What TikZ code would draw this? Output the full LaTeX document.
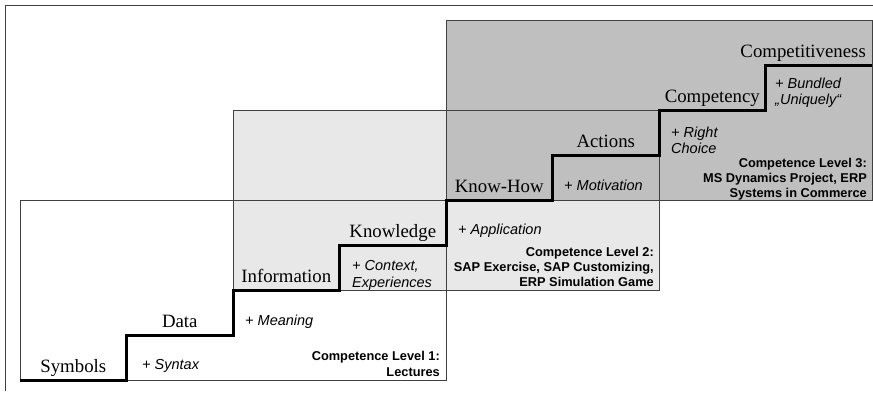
\documentclass[tikz,border=0pt]{standalone}
\usepackage{fontspec}
\setmainfont{Liberation Serif}
\setsansfont{Liberation Sans}
\begin{document}
\begin{tikzpicture}[x=1pt,y=-1pt,
  frame/.style={draw=black!75, line width=0.8pt},
  stage/.style={font=\fontsize{18.8}{22}\selectfont, inner sep=0pt, anchor=base},
  plus/.style={font=\sffamily\itshape\fontsize{14.5}{17}\selectfont, inner sep=0pt, anchor=base west},
  level/.style={font=\sffamily\bfseries\fontsize{12.8}{15}\selectfont, inner sep=0pt, anchor=base east},
  stair/.style={line width=3pt, line join=miter, line cap=butt}]
\useasboundingbox (0,0) rectangle (873,394);
% outer frame
\draw[frame] (5.5,391) -- (5.5,5.5) -- (873,5.5);
% fills
\fill[white] (20,200) rectangle (446,380);
\fill[black!9] (233,110) rectangle (659,290);
\fill[black!25] (446,20) rectangle (872,200);
% borders
\draw[frame] (20,200) rectangle (446,380);
\draw[frame] (233,110) rectangle (659,290);
\draw[frame] (446,20) rectangle (872,200);
% staircase
\draw[stair] (20,380) -| (126.5,335) -| (233,290) -| (339.5,245) -| (446,200)
  -| (552.5,155) -| (659,110) -| (765.5,65) -- (872,65);
% stage labels
\node[stage] (symbols) at (73.3,372) {Symbols};
\node[stage] (data) at (179.8,327) {Data};
\node[stage] (information) at (286.3,282) {Information};
\node[stage] (knowledge) at (392.8,237) {Knowledge};
\node[stage] (knowhow) at (499.3,192) {Know-How};
\node[stage] (actions) at (605.8,147) {Actions};
\node[stage] (competency) at (712.3,102) {Competency};
\node[stage, anchor=base east] (competitiveness) at (866,57) {Competitiveness};
% plus labels
\node[plus] (syntax) at (142,369) {+ Syntax};
\node[plus] (meaning) at (245,325) {+ Meaning};
\node[plus] (context1) at (352,270) {+ Context,};
\node[plus] (context2) at (352,287) {Experiences};
\node[plus] (application) at (458,234) {+ Application};
\node[plus] (motivation) at (564,190) {+ Motivation};
\node[plus] (right1) at (671,137) {+ Right};
\node[plus] (right2) at (671,153) {Choice};
\node[plus] (bundled1) at (775,88) {+ Bundled};
\node[plus] (bundled2) at (775,104) {„Uniquely“};
% competence levels
\node[level] (l1a) at (440,360.5) {Competence Level 1:};
\node[level] (l1b) at (440,376) {Lectures};
\node[level] (l2a) at (654,256) {Competence Level 2:};
\node[level] (l2b) at (654,271) {SAP Exercise, SAP Customizing,};
\node[level] (l2c) at (654,286) {ERP Simulation Game};
\node[level] (l3a) at (867,167) {Competence Level 3:};
\node[level] (l3b) at (867,182.5) {MS Dynamics Project, ERP};
\node[level] (l3c) at (867,197) {Systems in Commerce};
\end{tikzpicture}
\end{document}
